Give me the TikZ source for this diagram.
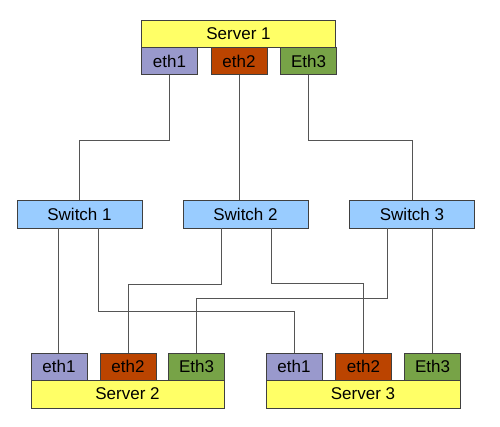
\documentclass[tikz,border=0pt]{standalone}
\usepackage{fontspec}
\setmainfont{Liberation Sans}
\definecolor{srv}{HTML}{FFFF66}
\definecolor{ethA}{HTML}{9999CC}
\definecolor{ethB}{HTML}{BB4400}
\definecolor{ethC}{HTML}{77A347}
\definecolor{swc}{HTML}{99CCFF}
\definecolor{bord}{HTML}{404040}
\definecolor{wire}{HTML}{555555}
\tikzset{
  box/.style={draw=bord, line width=0.9pt, inner sep=0pt, font=\fontsize{17}{20}\selectfont},
  srvbox/.style={box, fill=srv, minimum width=194pt, minimum height=27pt},
  portA/.style={box, fill=ethA, minimum width=56pt, minimum height=27pt},
  portB/.style={box, fill=ethB, minimum width=56pt, minimum height=27pt},
  portC/.style={box, fill=ethC, minimum width=56pt, minimum height=27pt},
  swbox/.style={box, fill=swc, minimum width=125pt, minimum height=28pt},
  wireline/.style={draw=wire, line width=0.8pt}
}
\begin{document}
\begin{tikzpicture}[x=1pt,y=-1pt]
\fill[white] (0,0) rectangle (500,426);
\useasboundingbox (0,0) rectangle (500,426);
\node[srvbox] (s1) at (238.5,33.5) {Server 1};
\node[portA] (s1e1) at (169.5,61) {eth1};
\node[portB] (s1e2) at (239,61) {eth2};
\node[portC] (s1e3) at (308.5,61) {Eth3};
\node[swbox] (sw1) at (79.5,214) {Switch 1};
\node[swbox] (sw2) at (245.5,214) {Switch 2};
\node[swbox] (sw3) at (412,214) {Switch 3};
\node[portA] (s2e1) at (59,366.5) {eth1};
\node[portB] (s2e2) at (128,366.5) {eth2};
\node[portC] (s2e3) at (196.5,366.5) {Eth3};
\node[srvbox, minimum width=193pt, minimum height=28pt] (s2) at (127.5,394) {Server 2};
\node[portA] (s3e1) at (294,366.5) {eth1};
\node[portB] (s3e2) at (363.5,366.5) {eth2};
\node[portC] (s3e3) at (432.5,366.5) {Eth3};
\node[srvbox, minimum height=28pt] (s3) at (363,394) {Server 3};
% connector start points on the switches
\coordinate (sw1a) at ([xshift=42pt]sw1.south west);
\coordinate (sw1b) at ([xshift=82pt]sw1.south west);
\coordinate (sw2a) at ([xshift=39pt]sw2.south west);
\coordinate (sw2b) at ([xshift=89pt]sw2.south west);
\coordinate (sw3a) at ([xshift=38pt]sw3.south west);
\coordinate (sw3b) at ([xshift=83pt]sw3.south west);
% top connectors
\draw[wireline] (s1e1.south) -- (s1e1.south |- 0,140) -| (sw1.north);
\draw[wireline] (s1e2.south) -- (s1e2.south |- sw2.north);
\draw[wireline] (s1e3.south) -- (s1e3.south |- 0,140) -| (sw3.north);
% bottom connectors
\draw[wireline] (sw1a) -- (sw1a |- s2e1.north);
\draw[wireline] (sw1b) -- (sw1b |- 0,311) -| (s3e1.north);
\draw[wireline] (sw2a) -- (sw2a |- 0,284) -| (s2e2.north);
\draw[wireline] (sw2b) -- (sw2b |- 0,283) -| (s3e2.north);
\draw[wireline] (sw3a) -- (sw3a |- 0,298) -| (s2e3.north);
\draw[wireline] (sw3b) -- (sw3b |- s3e3.north);
\end{tikzpicture}
\end{document}
